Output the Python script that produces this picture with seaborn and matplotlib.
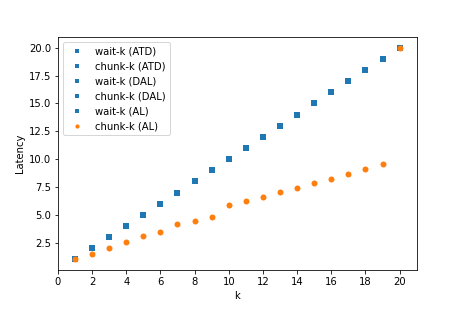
import numpy as np
import matplotlib
matplotlib.use("Agg")
import matplotlib.pyplot as plt
import seaborn as sns

# k values and latencies
k = list(range(1, 21))
wait_atd = list(range(1, 21))
chunk_atd = list(range(1, 21))
wait_dal = list(range(1, 21))
chunk_dal = list(range(1, 21))
wait_al = list(range(1, 21))
chunk_al = [1.0, 1.51, 2.0, 2.59, 3.13, 3.43, 4.15, 4.47, 4.83, 5.91,
            6.25, 6.62, 7.01, 7.40, 7.82, 8.24, 8.68, 9.10, 9.55, 20.0]

series = [
    ("wait-k (ATD)", wait_atd),
    ("chunk-k (ATD)", chunk_atd),
    ("wait-k (DAL)", wait_dal),
    ("chunk-k (DAL)", chunk_dal),
    ("wait-k (AL)", wait_al),
]

fig, ax = plt.subplots(figsize=(463 / 72, 309 / 72), dpi=72)
fig.subplots_adjust(left=0.125, right=0.9, bottom=0.126, top=0.88)

for name, vals in series:
    sns.scatterplot(x=k, y=vals, marker='s', color='C0', label=name,
                    s=36, edgecolor='C0', linewidth=0, ax=ax)
sns.scatterplot(x=k, y=chunk_al, marker='o', color='C1', label='chunk-k (AL)',
                s=36, edgecolor='C1', linewidth=0, ax=ax)

ax.set_xticks(range(0, 21, 2))
ax.set_xlim(0, 21)
ax.set_xlabel('k')
ax.set_ylabel('Latency')
ax.legend(loc='upper left', markerscale=0.7)

fig.savefig('out.png', dpi=72)
